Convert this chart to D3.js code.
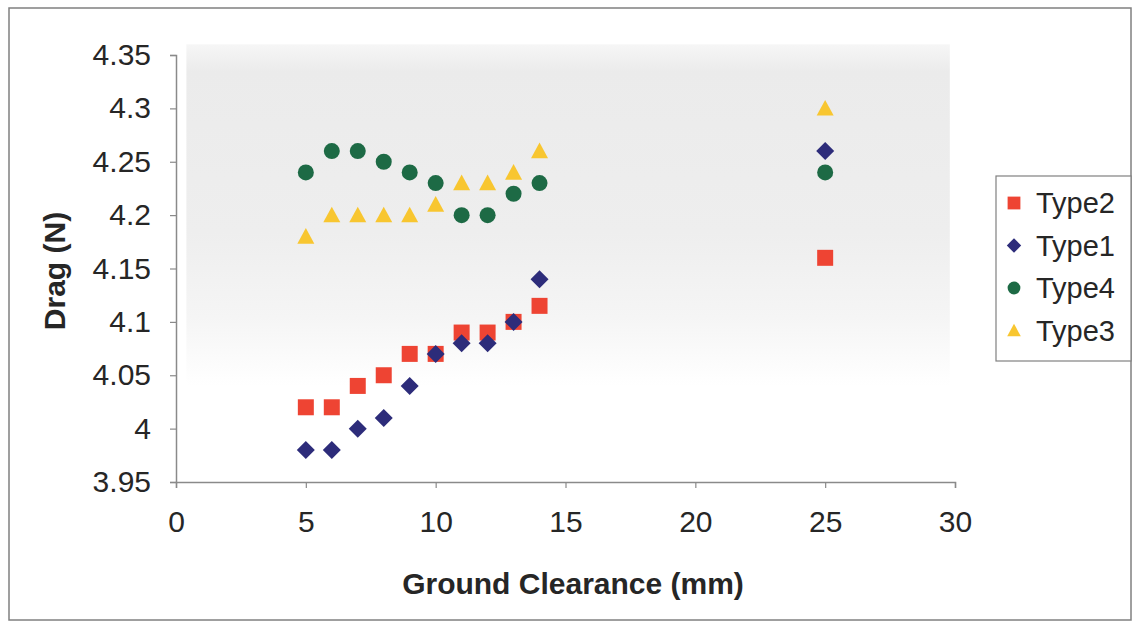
<!DOCTYPE html>
<html>
<head>
<meta charset="utf-8">
<script src="https://d3js.org/d3.v7.min.js"></script>
<style>
  body { margin: 0; background: #fff; }
  text { font-family: "Liberation Sans", Arial, sans-serif; fill: #262626; }
</style>
</head>
<body>
<div id="chart"></div>
<script>
// Data
var clearance = [5, 6, 7, 8, 9, 10, 11, 12, 13, 14, 25];
var type2 = [4.02, 4.02, 4.04, 4.05, 4.07, 4.07, 4.09, 4.09, 4.10, 4.115, 4.16];
var type1 = [3.98, 3.98, 4.00, 4.01, 4.04, 4.07, 4.08, 4.08, 4.10, 4.14, 4.26];
var type4 = [4.24, 4.26, 4.26, 4.25, 4.24, 4.23, 4.20, 4.20, 4.22, 4.23, 4.24];
var type3 = [4.18, 4.20, 4.20, 4.20, 4.20, 4.21, 4.23, 4.23, 4.24, 4.26, 4.30];
var xTicks = [0, 5, 10, 15, 20, 25, 30];
var yTicks = [3.95, 4, 4.05, 4.1, 4.15, 4.2, 4.25, 4.3, 4.35];

var width = 1137, height = 627;

var svg = d3.select("#chart").append("svg")
  .attr("width", width)
  .attr("height", height);

// outer frame
svg.append("rect")
  .attr("x", 9).attr("y", 8)
  .attr("width", 1122).attr("height", 612)
  .attr("fill", "#fff")
  .attr("stroke", "#808080").attr("stroke-width", 1.5);

var x = d3.scaleLinear().domain([0, 30]).range([176, 955]);
var y = d3.scaleLinear().domain([3.95, 4.35]).range([482, 55]);

// faint grey shading seen in the plot area (scan)
var defs = svg.append("defs");
var grad = defs.append("linearGradient").attr("id", "shade")
  .attr("x1", 0).attr("y1", 0).attr("x2", 0).attr("y2", 1);
grad.append("stop").attr("offset", "0%").attr("stop-color", "#f6f6f6");
grad.append("stop").attr("offset", "8%").attr("stop-color", "#ebebeb");
grad.append("stop").attr("offset", "55%").attr("stop-color", "#eeeeee");
grad.append("stop").attr("offset", "80%").attr("stop-color", "#f5f5f5");
grad.append("stop").attr("offset", "100%").attr("stop-color", "#ffffff");
svg.append("rect")
  .attr("x", x(0.4)).attr("y", y(4.36))
  .attr("width", x(29.8) - x(0.4)).attr("height", y(4.04) - y(4.36))
  .attr("fill", "url(#shade)");

// axes
var xAxis = d3.axisBottom(x).tickValues(xTicks).tickSize(6).tickPadding(23)
  .tickFormat(d3.format("d"));
var yAxis = d3.axisLeft(y).tickValues(yTicks).tickSize(6).tickPadding(19)
  .tickFormat(function(d) { return String(+d.toFixed(2)); });

var gx = svg.append("g").attr("transform", "translate(0," + y(3.95) + ")").call(xAxis);
var gy = svg.append("g").attr("transform", "translate(" + x(0) + ",0)").call(yAxis);
[gx, gy].forEach(function(g) {
  g.select(".domain").attr("stroke", "#8a8a8a").attr("stroke-width", 1.5);
  g.selectAll(".tick line").attr("stroke", "#8a8a8a").attr("stroke-width", 1.2);
  g.selectAll(".tick text").attr("font-size", 30).attr("fill", "#262626")
    .attr("font-family", "Liberation Sans, Arial, sans-serif");
});

// axis titles
svg.append("text")
  .attr("x", 573).attr("y", 594)
  .attr("text-anchor", "middle")
  .attr("font-size", 30).attr("font-weight", "bold")
  .text("Ground Clearance (mm)");
svg.append("text")
  .attr("transform", "translate(65,271) rotate(-90)")
  .attr("text-anchor", "middle")
  .attr("font-size", 30).attr("font-weight", "bold")
  .text("Drag (N)");

// marker shapes, r = half width
function shapePath(kind, r) {
  var p = d3.path();
  if (kind === "square") {
    p.rect(-r, -r, 2 * r, 2 * r);
  } else if (kind === "diamond") {
    p.moveTo(0, -r); p.lineTo(r, 0); p.lineTo(0, r); p.lineTo(-r, 0); p.closePath();
  } else if (kind === "circle") {
    p.arc(0, 0, r, 0, 2 * Math.PI);
  } else {
    p.moveTo(0, -r); p.lineTo(r, r * 0.85); p.lineTo(-r, r * 0.85); p.closePath();
  }
  return p.toString();
}

var series = [
  { name: "Type2", values: type2, color: "#ee4433", shape: "square", r: 8 },
  { name: "Type1", values: type1, color: "#2d2c7a", shape: "diamond", r: 9 },
  { name: "Type4", values: type4, color: "#1d6a45", shape: "circle", r: 8 },
  { name: "Type3", values: type3, color: "#f8c630", shape: "triangle", r: 8.5 }
];

series.forEach(function(s) {
  svg.append("g").selectAll("path")
    .data(s.values)
    .enter().append("path")
    .attr("d", shapePath(s.shape, s.r))
    .attr("transform", function(d, i) {
      return "translate(" + x(clearance[i]) + "," + y(d) + ")";
    })
    .attr("fill", s.color);
});

// legend
var legend = svg.append("g");
legend.append("rect")
  .attr("x", 996).attr("y", 176)
  .attr("width", 135).attr("height", 185)
  .attr("fill", "#fff").attr("stroke", "#808080").attr("stroke-width", 1.2);

series.forEach(function(s, i) {
  var ly = 203 + i * 42.5;
  legend.append("path")
    .attr("d", shapePath(s.shape, s.r * 0.8))
    .attr("transform", "translate(1014," + ly + ")")
    .attr("fill", s.color);
  legend.append("text")
    .attr("x", 1036).attr("y", ly + 10)
    .attr("font-size", 29)
    .text(s.name);
});
</script>
</body>
</html>
